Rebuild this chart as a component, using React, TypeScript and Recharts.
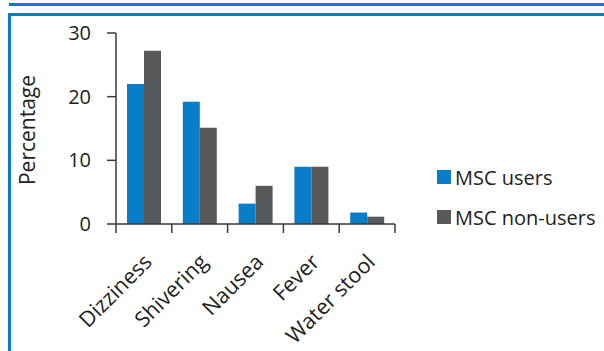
import React from 'react';
import { BarChart, Bar, XAxis, YAxis } from 'recharts';

const categories = ['Dizziness', 'Shivering', 'Nausea', 'Fever', 'Water stool'];
const mscUsers = [22, 19.2, 3.2, 9, 1.8];
const mscNonUsers = [27.2, 15.1, 6, 9, 1.15];
const yTicks = [0, 10, 20, 30];
const seriesNames = ['MSC users', 'MSC non-users'];

const BLUE = '#0A7DC8';
const GRAY = '#58595B';
const AXIS = '#3A3A3A';
const FONT = '"Open Sans", sans-serif';

const data = categories.map((name, i) => ({
  name,
  users: mscUsers[i],
  nonUsers: mscNonUsers[i],
}));

// plot box
const W = 604;
const H = 351;
const LEFT = 116;
const RIGHT = 209;
const TOP = 33;
const XAXIS_H = 127;
const band = (W - LEFT - RIGHT) / categories.length;

const CategoryTick = (props: any) => {
  const { x, payload, index } = props;
  const axisY = H - XAXIS_H;
  const left = x - band / 2;
  const lx = x + 4;
  const ly = axisY + 34;
  return (
    <g>
      <line x1={left} y1={axisY} x2={left} y2={axisY + 9} stroke={AXIS} strokeWidth={1.5} />
      {index === categories.length - 1 && (
        <line x1={left + band} y1={axisY} x2={left + band} y2={axisY + 9} stroke={AXIS} strokeWidth={1.5} />
      )}
      <text
        x={lx}
        y={ly}
        dy="0.35em"
        textAnchor="end"
        transform={`rotate(-45, ${lx}, ${ly})`}
        fontSize={21.5}
        fontFamily={FONT}
        fill="#222"
      >
        {payload.value}
      </text>
    </g>
  );
};

export default function App() {
  const legendColors = [BLUE, GRAY];
  return (
    <div style={{ position: 'absolute', left: 0, top: 0, width: W, height: H, background: '#fff' }}>
      {/* frame lines */}
      <div style={{ position: 'absolute', left: 9, top: 3, right: 0, height: 3, background: BLUE }} />
      <div style={{ position: 'absolute', left: 8, top: 13, right: 0, height: 3, background: BLUE }} />
      <div style={{ position: 'absolute', left: 8, top: 13, width: 3, bottom: 0, background: BLUE }} />
      <div style={{ position: 'absolute', left: 0, top: 0 }}>
        <BarChart
          width={W}
          height={H}
          data={data}
          margin={{ top: TOP, right: RIGHT, left: 0, bottom: 0 }}
          barCategoryGap="20%"
          barGap={0}
        >
          <XAxis
            dataKey="name"
            height={XAXIS_H}
            interval={0}
            axisLine={{ stroke: AXIS, strokeWidth: 1.5 }}
            tickLine={false}
            tick={<CategoryTick />}
          />
          <YAxis
            width={LEFT}
            domain={[0, 30]}
            ticks={yTicks}
            interval={0}
            axisLine={{ stroke: AXIS, strokeWidth: 1.5 }}
            tickLine={{ stroke: AXIS, strokeWidth: 1.5 }}
            tickSize={9}
            tickMargin={16}
            tick={{ fontSize: 20, fontFamily: FONT, fill: '#222' }}
            label={{
              content: () => (
                <text
                  x={35}
                  y={130}
                  textAnchor="middle"
                  transform="rotate(-90, 35, 130)"
                  fontSize={21}
                  fontFamily={FONT}
                  fill="#222"
                >
                  Percentage
                </text>
              ),
            }}
          />
          <Bar dataKey="users" name={seriesNames[0]} fill={BLUE} barSize={17} isAnimationActive={false} />
          <Bar dataKey="nonUsers" name={seriesNames[1]} fill={GRAY} barSize={17} isAnimationActive={false} />
        </BarChart>
      </div>
      {/* legend */}
      <div style={{ position: 'absolute', left: 437, top: 157, fontFamily: FONT, fontSize: 20, color: '#222' }}>
        {seriesNames.map((label, i) => (
          <div key={label} style={{ display: 'flex', alignItems: 'center', height: 40 }}>
            <span style={{ width: 14, height: 14, background: legendColors[i], marginRight: 4 }} />
            <span>{label}</span>
          </div>
        ))}
      </div>
    </div>
  );
}
